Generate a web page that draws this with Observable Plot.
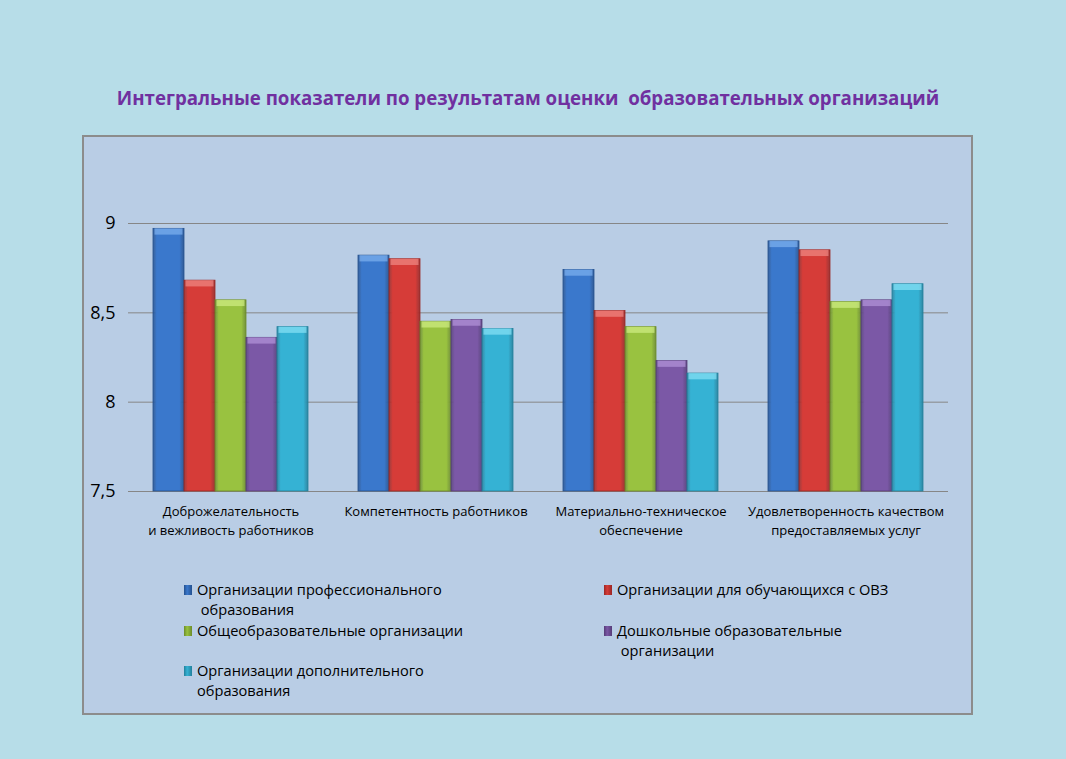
<!DOCTYPE html>
<html>
<head>
<meta charset="utf-8">
<script src="https://cdn.jsdelivr.net/npm/d3@7"></script>
<script src="https://cdn.jsdelivr.net/npm/@observablehq/plot@0.6"></script>
<style>
  html, body { margin: 0; padding: 0; }
  body { width: 1066px; height: 759px; background: #b7dde8; position: relative; overflow: hidden;
         font-family: "Open Sans", "Liberation Sans", sans-serif; }
  #title { position: absolute; left: 0; width: 1056px; top: 85px; text-align: center;
           font-size: 18.7px; font-weight: bold; color: #7030a0; white-space: pre; }
  #box { position: absolute; left: 82px; top: 135px; width: 887px; height: 576px;
         background: #b9cde5; border: 2px solid #8c8c8c; }
  #chart { position: absolute; left: 0; top: 135px; }
  #legend { position: absolute; left: 0; top: 0; width: 1066px; height: 759px; pointer-events: none; }
  .li { position: absolute; font-size: 14.6px; line-height: 19.5px; color: #000; }
  .li .sw { position: absolute; left: -13px; top: 5px; width: 8px; height: 10px; }
</style>
</head>
<body>
<div id="title"></div>
<div id="box"></div>
<div id="chart"></div>
<div id="legend"></div>
<script>
const title = "Интегральные показатели по результатам оценки  образовательных организаций";
const categories = [
  "Доброжелательность\nи вежливость работников",
  "Компетентность работников",
  "Материально-техническое\nобеспечение",
  "Удовлетворенность качеством\nпредоставляемых услуг"
];
const series = [
  "Организации профессионального образования",
  "Организации для обучающихся с ОВЗ",
  "Общеобразовательные организации",
  "Дошкольные образовательные организации",
  "Организации дополнительного образования"
];
const legendLines = [
  "Организации профессионального\n образования",
  "Организации для обучающихся с ОВЗ",
  "Общеобразовательные организации",
  "Дошкольные образовательные\n организации",
  "Организации дополнительного\nобразования"
];
const colors = ["#3a78cc", "#d63c38", "#99c240", "#7b58a6", "#35b2d4"];
const darkColors = ["#24508e", "#9a2624", "#6c8c2a", "#553c78", "#22809c"];
const lightColors = ["#7fb2f0", "#f08a86", "#d0ee84", "#b596dc", "#8ae2f6"];
const yTicks = [7.5, 8, 8.5, 9];

const valuesProf = [8.97, 8.82, 8.74, 8.90];
const valuesOVZ = [8.68, 8.80, 8.51, 8.85];
const valuesGeneral = [8.57, 8.45, 8.42, 8.56];
const valuesPreschool = [8.36, 8.46, 8.23, 8.57];
const valuesAdditional = [8.42, 8.41, 8.16, 8.66];

const seriesValues = [valuesProf, valuesOVZ, valuesGeneral, valuesPreschool, valuesAdditional];
const data = [];
categories.forEach((c, ci) => series.forEach((s, si) => data.push({category: c, series: s, value: seriesValues[si][ci]})));

document.getElementById("title").textContent = title;

const gradIds = series.map((_, i) => `url(#grad${i})`);

const chart = Plot.plot({
  width: 1066,
  height: 420,
  marginLeft: 127,
  marginRight: 117,
  marginTop: 88,
  marginBottom: 64,
  style: {background: "transparent", fontFamily: "'Open Sans', 'Liberation Sans', sans-serif", color: "#000"},
  fx: {domain: categories, padding: 0, label: null},
  x: {domain: series, paddingInner: 0, paddingOuter: 0.72, axis: null},
  y: {domain: [7.5, 9], label: null},
  color: {domain: series, range: gradIds},
  marks: [
    Plot.ruleY(yTicks, {stroke: "#868686", strokeWidth: 1}),
    Plot.barY(data, {fx: "category", x: "series", y1: d => 7.5, y2: "value", fill: "series", stroke: (d) => darkColors[series.indexOf(d.series)], strokeWidth: 0.8}),
    Plot.barY(data, {fx: "category", x: "series", y1: d => d.value - 0.035, y2: "value", fill: d => lightColors[series.indexOf(d.series)], fillOpacity: 0.7, insetLeft: 1.5, insetRight: 1.5}),
    Plot.axisY({ticks: yTicks, tickSize: 0, tickPadding: 13, fontSize: 18, tickFormat: d => String(d).replace(".", ",")}),
    Plot.axisFx({anchor: "bottom", tickSize: 0, tickPadding: 11, fontSize: 13, lineHeight: 1.45, label: null, tickFormat: d => d})
  ]
});

const ns = "http://www.w3.org/2000/svg";
const defs = document.createElementNS(ns, "defs");
series.forEach((_, i) => {
  const g = document.createElementNS(ns, "linearGradient");
  g.setAttribute("id", `grad${i}`);
  g.setAttribute("x1", "0"); g.setAttribute("x2", "1"); g.setAttribute("y1", "0"); g.setAttribute("y2", "0");
  [[0, darkColors[i], 0.85], [0.12, colors[i], 1], [0.45, colors[i], 1], [0.85, colors[i], 1], [1, darkColors[i], 0.9]].forEach(([o, c, op]) => {
    const s = document.createElementNS(ns, "stop");
    s.setAttribute("offset", o);
    s.setAttribute("stop-color", c);
    s.setAttribute("stop-opacity", op);
    g.appendChild(s);
  });
  defs.appendChild(g);
});
chart.insertBefore(defs, chart.firstChild);
document.getElementById("chart").appendChild(chart);

const positions = [[197, 580], [617, 580], [197, 621], [617, 621], [197, 661]];
const leg = document.getElementById("legend");
series.forEach((s, i) => {
  const d = document.createElement("div");
  d.className = "li";
  d.style.left = positions[i][0] + "px";
  d.style.top = positions[i][1] + "px";
  const sw = document.createElement("span");
  sw.className = "sw";
  sw.style.background = `linear-gradient(to right, ${darkColors[i]}, ${colors[i]} 40%, ${darkColors[i]})`;
  d.appendChild(sw);
  const t = document.createElement("span");
  t.style.whiteSpace = "pre";
  t.textContent = legendLines[i];
  d.appendChild(t);
  leg.appendChild(d);
});
</script>
</body>
</html>
